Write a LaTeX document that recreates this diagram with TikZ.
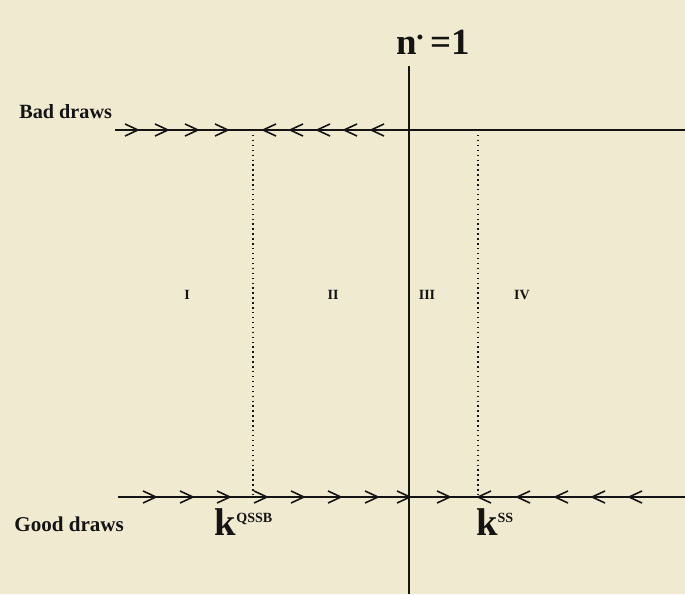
\documentclass[tikz,border=0pt]{standalone}
\usepackage{fontspec}
\setmainfont{Liberation Serif}
\usetikzlibrary{positioning}
\definecolor{Paper}{HTML}{F0EAD0}
\definecolor{Ink}{HTML}{141414}
\newcommand{\chevR}[2]{\draw[chev] ({#1-13},{#2-6})--(#1,#2)--({#1-13},{#2+6});}
\newcommand{\chevL}[2]{\draw[chev] ({#1+13},{#2-6})--(#1,#2)--({#1+13},{#2+6});}

\begin{document}
\begin{tikzpicture}[x=0.02cm,y=-0.02cm,
  every node/.style={font=\bfseries,text=Ink,inner sep=0pt},
  axis/.style={draw=Ink,line width=1.3pt},
  chev/.style={draw=Ink,line width=0.9pt},
  guide/.style={draw=Ink,line width=0.8pt,dotted},
  region/.style={font=\bfseries\fontsize{8}{8}\selectfont}]
  \fill[Paper] (0,0) rectangle (685,594);
  \useasboundingbox (0,0) rectangle (685,594);
  % lines
  \coordinate (b0) at (115,130);
  \coordinate (b1) at (685,130);
  \coordinate (g0) at (118,497);
  \coordinate (g1) at (685,497);
  \coordinate (v0) at (409,66);
  \coordinate (v1) at (409,594);
  \coordinate (q0) at (253,130);
  \coordinate (q1) at (253,497);
  \coordinate (s0) at (478,130);
  \coordinate (s1) at (478,497);
  \draw[axis] (b0)--(b1);
  \draw[axis] (g0)--(g1);
  \draw[draw=Ink,line width=1pt] (v0)--(v1);
  \draw[guide] (q0)--(q1);
  \draw[guide] (s0)--(s1);
  % flow
  \foreach \x in {138,168,198,228} {\chevR{\x}{130}}
  \foreach \x in {263,290,317,344,371} {\chevL{\x}{130}}
  \foreach \x in {156,193,230,267,304,341,378,410,450} {\chevR{\x}{497}}
  \foreach \x in {478,517,555,592,629} {\chevL{\x}{497}}
  % labels
  \node[font=\bfseries\fontsize{21}{21}\selectfont] (title) at (433,42)
    {n\textsuperscript{\raisebox{-0.2ex}{\scalebox{0.7}{\textbullet}}}\,=1};
  \node[font=\bfseries\fontsize{11.5}{11.5}\selectfont,anchor=west] (bad) at (19,112) {Bad draws};
  \node[font=\bfseries\fontsize{12}{12}\selectfont,anchor=west] (good) at (14,524) {Good draws};
  \node[font=\bfseries\fontsize{22}{22}\selectfont] (kq) at (244,522)
    {k\textsuperscript{\fontsize{8}{8}\selectfont QSSB}};
  \node[font=\bfseries\fontsize{22}{22}\selectfont] (ks) at (495,522)
    {k\textsuperscript{\fontsize{8}{8}\selectfont SS}};
  \node[region] (r1) at (187,295) {I};
  \node[region] (r2) at (333,295) {II};
  \node[region] (r3) at (427,295) {III};
  \node[region] (r4) at (522,295) {IV};
\end{tikzpicture}
\end{document}
